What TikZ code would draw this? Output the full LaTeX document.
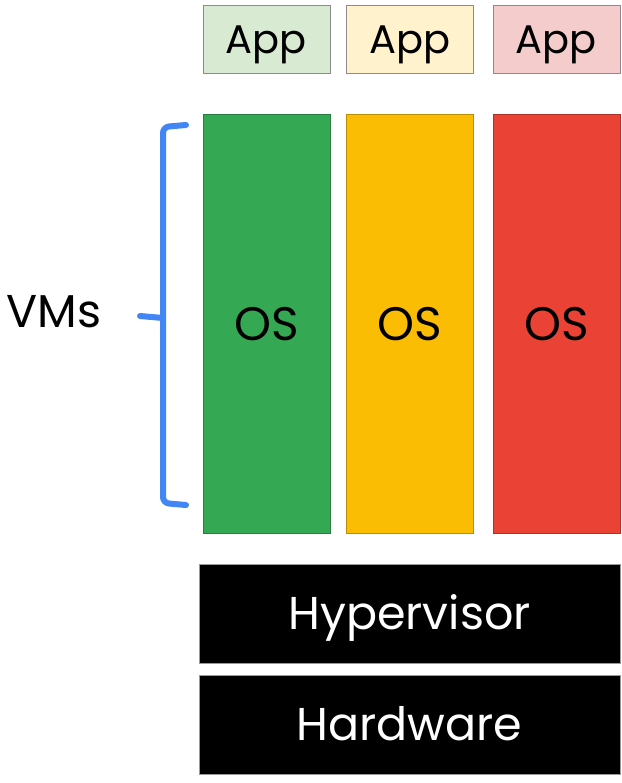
\documentclass[tikz,border=0pt]{standalone}
\usepackage{fontspec}
\setmainfont{Poppins}
\definecolor{gGreen}{HTML}{34A853}
\definecolor{gYellow}{HTML}{FBBC04}
\definecolor{gRed}{HTML}{EA4335}
\definecolor{gBlue}{HTML}{4285F4}
\definecolor{appGreen}{HTML}{D9EAD3}
\definecolor{appYellow}{HTML}{FFF2CC}
\definecolor{appRed}{HTML}{F4CCCC}
\begin{document}
\begin{tikzpicture}[x=1pt,y=-1pt,
    capmid/.style ={text height=#1, text depth=0pt},
    appbox/.style ={draw=black!45, fill=#1, line width=1pt, inner sep=0pt, capmid=28pt,
      minimum width=127pt, minimum height=68pt, font=\fontsize{40}{40}\selectfont},
    osbox/.style ={draw=#1!75!black, fill=#1, line width=1pt, inner sep=0pt, capmid=33pt,
      minimum width=127pt, minimum height=418pt, font=\fontsize{47}{47}\selectfont},
    layerbox/.style ={draw=black!40, fill=black, text=white, line width=1pt, inner sep=0pt, capmid=32pt,
      minimum width=421pt, minimum height=99pt, font=\fontsize{46}{46}\selectfont},
    vmbrace/.style ={draw=gBlue, line width=6pt, line cap=round, line join=round}]
   \useasboundingbox[fill=white] (0,0) rectangle (621,783);
   \node[appbox=appGreen]  (appA) at (266.5,40)  {App};
   \node[appbox=appYellow] (appB) at (410,40)    {App};
   \node[appbox=appRed]    (appC) at (556.5,40)  {App};
   \node[osbox=gGreen]  (osA) at (266.5,324) {OS};
   \node[osbox=gYellow] (osB) at (410,324)   {OS};
   \node[osbox=gRed]    (osC) at (556.5,324) {OS};
   \node[layerbox] (hyp) at (409.5,613.5) {Hypervisor};
   \node[layerbox] (hw)  at (409.5,724.5) {Hardware};
   \node[capmid=32pt, font=\fontsize{46}{46}\selectfont] (vms) at (54,311) {VMs};
   \coordinate (bTop) at (186,125);
   \coordinate (bBot) at (186,505);
   \coordinate (bTip) at (140,316);
   \draw[vmbrace, rounded corners=6pt] (bTop) -- (163,127) -- (163,503) -- (bBot);
   \draw[vmbrace] (bTip) -- (163,318);
 \end{tikzpicture}
\end{document}
